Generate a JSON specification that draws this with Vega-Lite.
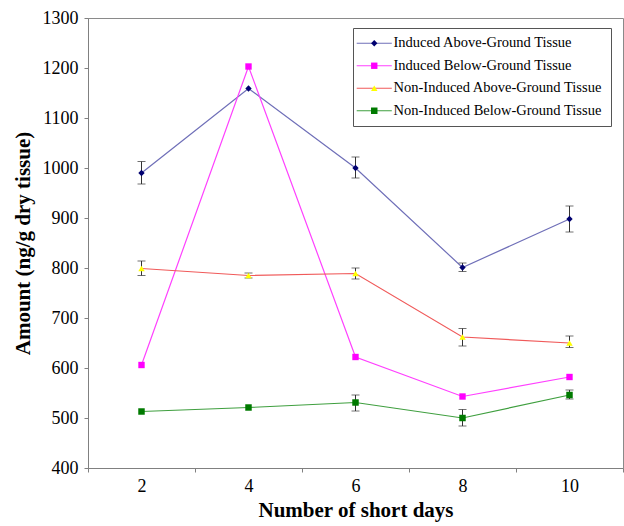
{
  "$schema": "https://vega.github.io/schema/vega-lite/v6.json",
  "width": 535,
  "height": 450,
  "autosize": {"type": "none"},
  "padding": {"left": 88, "top": 18, "right": 1, "bottom": 58},
  "background": "white",
  "config": {
    "font": "Liberation Serif",
    "view": {"stroke": "#8a8a8a"},
    "axis": {"grid": false, "domainColor": "#808080", "tickColor": "#808080", "labelColor": "#000", "titleColor": "#000", "labelFont": "Liberation Serif", "titleFont": "Liberation Serif"}
  },
  "datasets": {
    "pts": [
      {"series": "Induced Above-Ground Tissue", "days": 2, "value": 990},
      {"series": "Induced Above-Ground Tissue", "days": 4, "value": 1159},
      {"series": "Induced Above-Ground Tissue", "days": 6, "value": 1000},
      {"series": "Induced Above-Ground Tissue", "days": 8, "value": 801},
      {"series": "Induced Above-Ground Tissue", "days": 10, "value": 898},
      {"series": "Induced Below-Ground Tissue", "days": 2, "value": 606},
      {"series": "Induced Below-Ground Tissue", "days": 4, "value": 1203},
      {"series": "Induced Below-Ground Tissue", "days": 6, "value": 622},
      {"series": "Induced Below-Ground Tissue", "days": 8, "value": 543},
      {"series": "Induced Below-Ground Tissue", "days": 10, "value": 582},
      {"series": "Non-Induced Above-Ground Tissue", "days": 2, "value": 799},
      {"series": "Non-Induced Above-Ground Tissue", "days": 4, "value": 785},
      {"series": "Non-Induced Above-Ground Tissue", "days": 6, "value": 789},
      {"series": "Non-Induced Above-Ground Tissue", "days": 8, "value": 662},
      {"series": "Non-Induced Above-Ground Tissue", "days": 10, "value": 650},
      {"series": "Non-Induced Below-Ground Tissue", "days": 2, "value": 513},
      {"series": "Non-Induced Below-Ground Tissue", "days": 4, "value": 521},
      {"series": "Non-Induced Below-Ground Tissue", "days": 6, "value": 531},
      {"series": "Non-Induced Below-Ground Tissue", "days": 8, "value": 500},
      {"series": "Non-Induced Below-Ground Tissue", "days": 10, "value": 546}
    ],
    "errs": [
      {"series": "Induced Above-Ground Tissue", "days": 2, "lo": 968, "hi": 1013},
      {"series": "Induced Above-Ground Tissue", "days": 6, "lo": 980, "hi": 1022},
      {"series": "Induced Above-Ground Tissue", "days": 8, "lo": 793, "hi": 810},
      {"series": "Induced Above-Ground Tissue", "days": 10, "lo": 872, "hi": 924},
      {"series": "Non-Induced Above-Ground Tissue", "days": 2, "lo": 785, "hi": 814},
      {"series": "Non-Induced Above-Ground Tissue", "days": 4, "lo": 780, "hi": 790},
      {"series": "Non-Induced Above-Ground Tissue", "days": 6, "lo": 778, "hi": 800},
      {"series": "Non-Induced Above-Ground Tissue", "days": 8, "lo": 644, "hi": 679},
      {"series": "Non-Induced Above-Ground Tissue", "days": 10, "lo": 641, "hi": 664},
      {"series": "Non-Induced Below-Ground Tissue", "days": 6, "lo": 514, "hi": 546},
      {"series": "Non-Induced Below-Ground Tissue", "days": 8, "lo": 484, "hi": 517},
      {"series": "Non-Induced Below-Ground Tissue", "days": 10, "lo": 538, "hi": 556}
    ]
  },
  "layer": [
    {
      "data": {"name": "pts"},
      "mark": {"type": "line", "strokeWidth": 1.2},
      "encoding": {
        "x": {
          "field": "days", "type": "ordinal",
          "scale": {"type": "band", "domain": [2, 4, 6, 8, 10], "paddingInner": 0, "paddingOuter": 0},
          "axis": {"title": "Number of short days", "titleFontSize": 21, "titleFontWeight": "bold", "labelFontSize": 18, "labelAngle": 0, "tickBand": "extent", "tickSize": 4, "labelPadding": 5, "titlePadding": 4}
        },
        "y": {
          "field": "value", "type": "quantitative",
          "scale": {"domain": [400, 1300], "nice": false, "zero": false},
          "axis": {"title": "Amount (ng/g dry tissue)", "format": "d", "values": [400, 500, 600, 700, 800, 900, 1000, 1100, 1200, 1300], "titleFontSize": 21, "titleFontWeight": "bold", "labelFontSize": 18, "tickSize": 4, "labelPadding": 6, "titlePadding": 9}
        },
        "stroke": {
          "field": "series", "type": "nominal",
          "scale": {"range": ["#6f6fb8", "#ff40ff", "#f05a5a", "#3f9f3f"]},
          "legend": {"orient": "none", "legendX": 265, "legendY": 10, "title": null, "padding": 8, "strokeColor": "#555", "symbolType": "M-3.9,0H3.9", "symbolSize": 81, "symbolOffset": 6, "symbolStrokeWidth": 1.2, "symbolFillColor": "transparent", "labelFontSize": 14.5, "labelOffset": 12, "rowPadding": 7.5, "labelLimit": 400}
        }
      }
    },
    {
      "data": {"name": "errs"},
      "mark": {"type": "rule", "color": "#333", "strokeWidth": 1},
      "encoding": {
        "x": {"field": "days", "type": "ordinal"},
        "y": {"field": "lo", "type": "quantitative"},
        "y2": {"field": "hi"}
      }
    },
    {
      "data": {"name": "errs"},
      "mark": {"type": "tick", "color": "#333", "size": 8, "thickness": 1},
      "encoding": {
        "x": {"field": "days", "type": "ordinal"},
        "y": {"field": "lo", "type": "quantitative"}
      }
    },
    {
      "data": {"name": "errs"},
      "mark": {"type": "tick", "color": "#333", "size": 8, "thickness": 1},
      "encoding": {
        "x": {"field": "days", "type": "ordinal"},
        "y": {"field": "hi", "type": "quantitative"}
      }
    },
    {
      "data": {"name": "pts"},
      "mark": {"type": "point", "filled": true, "opacity": 1, "strokeWidth": 0},
      "encoding": {
        "x": {"field": "days", "type": "ordinal"},
        "y": {"field": "value", "type": "quantitative"},
        "fill": {
          "field": "series", "type": "nominal",
          "scale": {"domain": ["Induced Above-Ground Tissue", "Induced Below-Ground Tissue", "Non-Induced Above-Ground Tissue", "Non-Induced Below-Ground Tissue"], "range": ["#000070", "#ff00ff", "#ffff00", "#007a00"]},
          "legend": {"orient": "none", "legendX": 265, "legendY": 10, "title": null, "padding": 8, "symbolOffset": 6, "symbolStrokeWidth": 0, "labelFontSize": 14.5, "labelOffset": 12, "rowPadding": 7.5, "labelLimit": 400, "labelOpacity": 0}
        },
        "shape": {
          "field": "series", "type": "nominal",
          "scale": {"domain": ["Induced Above-Ground Tissue", "Induced Below-Ground Tissue", "Non-Induced Above-Ground Tissue", "Non-Induced Below-Ground Tissue"], "range": ["diamond", "square", "triangle-up", "square"]},
          "legend": {"orient": "none", "legendX": 265, "legendY": 10, "title": null, "padding": 8, "symbolOffset": 6, "symbolStrokeWidth": 0, "labelFontSize": 14.5, "labelOffset": 12, "rowPadding": 7.5, "labelLimit": 400, "labelOpacity": 0}
        },
        "size": {
          "field": "series", "type": "nominal",
          "scale": {"domain": ["Induced Above-Ground Tissue", "Induced Below-Ground Tissue", "Non-Induced Above-Ground Tissue", "Non-Induced Below-Ground Tissue"], "range": [40, 42, 50, 81]},
          "legend": {"orient": "none", "legendX": 265, "legendY": 10, "title": null, "padding": 8, "symbolOffset": 6, "symbolStrokeWidth": 0, "labelFontSize": 14.5, "labelOffset": 12, "rowPadding": 7.5, "labelLimit": 400, "labelOpacity": 0}
        }
      }
    }
  ]
}
